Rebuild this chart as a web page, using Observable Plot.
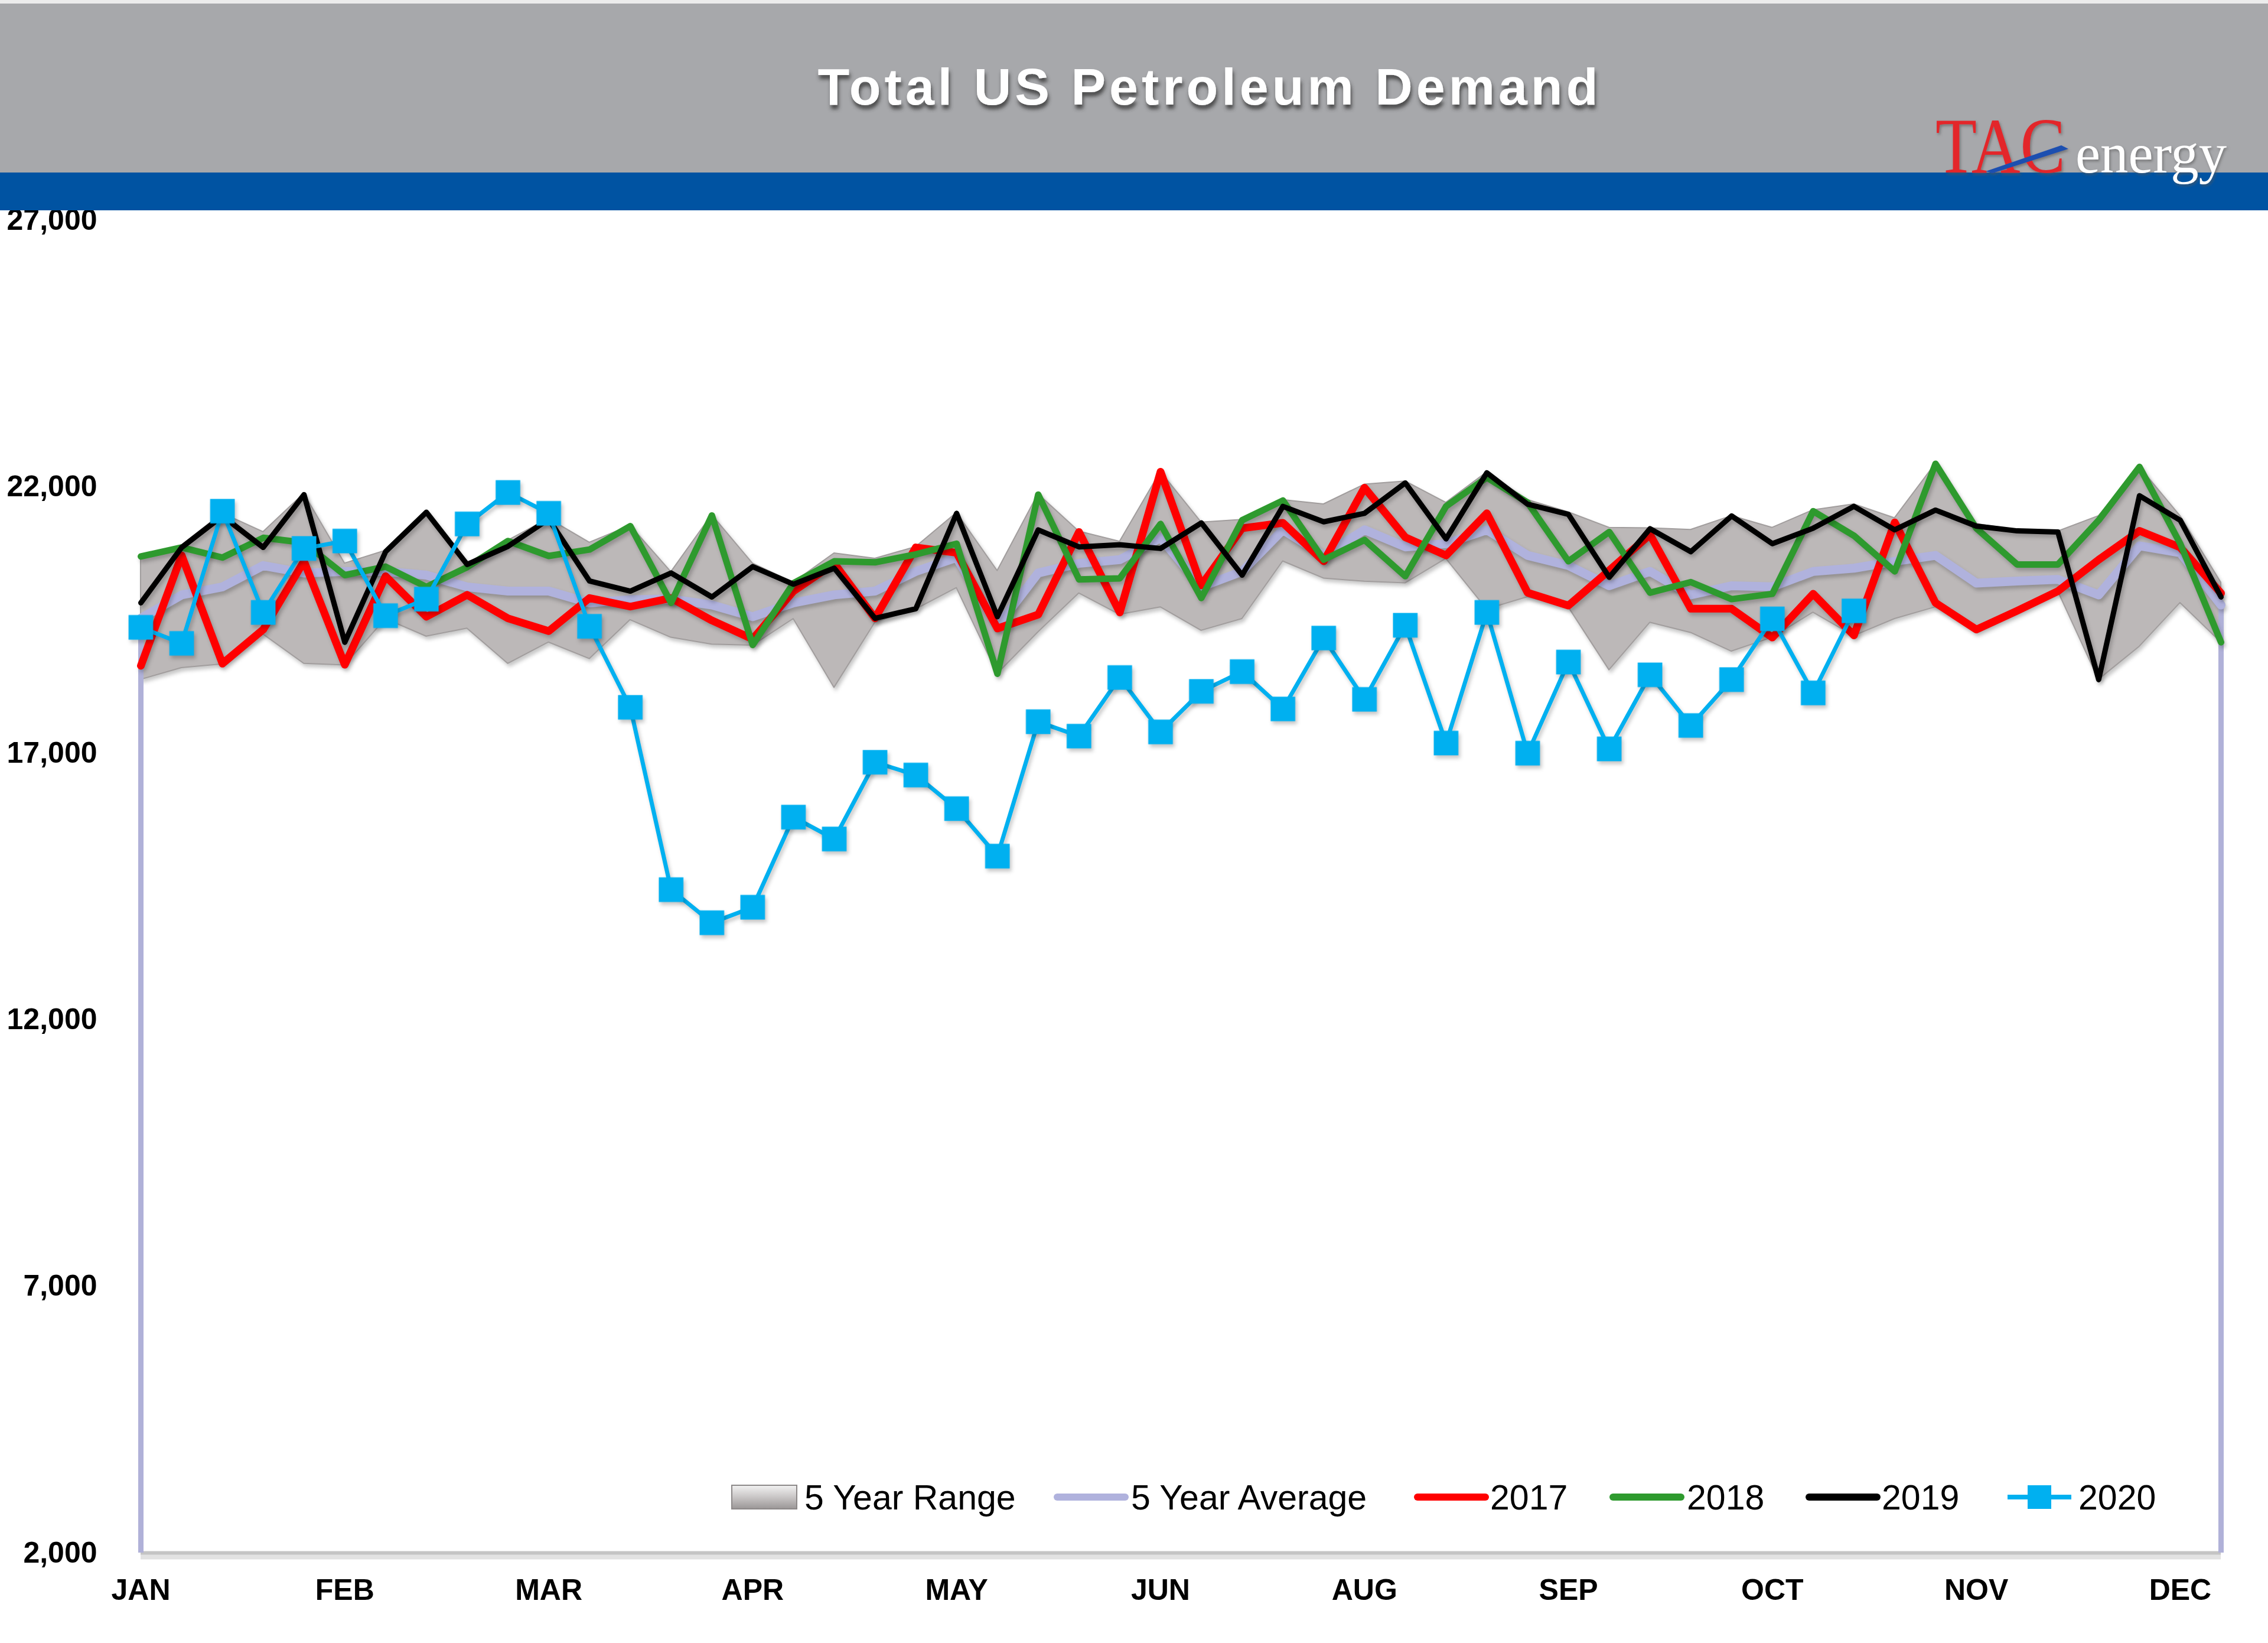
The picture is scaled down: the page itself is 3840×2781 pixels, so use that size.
<!DOCTYPE html>
<html>
<head>
<meta charset="utf-8">
<script src="https://cdn.jsdelivr.net/npm/d3@7"></script>
<script src="https://cdn.jsdelivr.net/npm/@observablehq/plot@0.6"></script>
<style>
  html, body { margin: 0; padding: 0; background: #ffffff; }
  #page { position: relative; width: 3840px; height: 2781px; overflow: hidden; background: #ffffff; }
  #chart { position: absolute; left: 0; top: 0; z-index: 1; }
  #header { position: absolute; left: 0; top: 0; z-index: 2; }
  #legend { position: absolute; left: 0; top: 2450px; z-index: 3; }
</style>
</head>
<body>
<div id="page">
  <div id="chart"></div>
  <svg id="header" width="3840" height="356" xmlns="http://www.w3.org/2000/svg">
    <defs>
      <filter id="tshadow" x="-5%" y="-20%" width="110%" height="160%">
        <feDropShadow dx="2" dy="7" stdDeviation="3" flood-color="#3a3a3a" flood-opacity="0.85"/>
      </filter>
      <filter id="lshadow" x="-5%" y="-20%" width="110%" height="160%">
        <feDropShadow dx="2" dy="3" stdDeviation="2" flood-color="#555" flood-opacity="0.6"/>
      </filter>
    </defs>
    <rect x="0" y="0" width="3840" height="6" fill="#ececec"/>
    <rect x="0" y="6" width="3840" height="286" fill="#a7a8ab"/>
    <rect x="0" y="292" width="3840" height="64" fill="#0053a2"/>
    <text x="2048" y="177" text-anchor="middle" font-family="Liberation Sans, Arial, sans-serif" font-weight="bold" font-size="88" letter-spacing="6" fill="#ffffff" filter="url(#tshadow)">Total US Petroleum Demand</text>
    <g filter="url(#lshadow)">
      <text x="3277" y="292" font-family="Liberation Serif, Times New Roman, serif" font-size="134" fill="#e3262b" textLength="220" lengthAdjust="spacingAndGlyphs">TAC</text>
      <polygon points="3362,290 3374,293 3502,252 3490,246" fill="#1f4fb0"/>
      <text x="3514" y="292" font-family="Liberation Serif, Times New Roman, serif" font-size="96" fill="#ffffff" textLength="256" lengthAdjust="spacingAndGlyphs">energy</text>
    </g>
  </svg>
  <svg id="legend" width="3840" height="150" xmlns="http://www.w3.org/2000/svg">
    <defs>
      <linearGradient id="rangeGrad" x1="0" y1="0" x2="0" y2="1">
        <stop offset="0" stop-color="#f2f2f2"/>
        <stop offset="0.5" stop-color="#c9c6c6"/>
        <stop offset="1" stop-color="#9a9696"/>
      </linearGradient>
    </defs>
  </svg>
</div>
<script>
// ---------------- data ----------------
const monthLabels = ["JAN","FEB","MAR","APR","MAY","JUN","AUG","SEP","OCT","NOV","DEC"];
const monthWeeks  = [1, 6, 11, 16, 21, 26, 31, 36, 41, 46, 51];
const yTicks = [2000, 7000, 12000, 17000, 22000, 27000];

const rangeHigh = [20700,20900,21500,21150,21870,20560,20800,21530,20560,20990,21400,20950,21270,20400,21470,20560,20200,20750,20650,20870,21510,20420,21860,21160,20970,22280,21330,21380,21750,21670,22040,22100,21700,22270,21750,21520,21230,21220,21190,21450,21230,21560,21670,21410,22430,21300,21190,21160,21450,22370,21450,20200];
const rangeLow  = [18380,18600,18670,19230,18680,18650,19520,19190,19340,18680,19080,18770,19500,19170,19040,19020,19520,18230,19450,19700,20100,18490,19270,20000,19600,19740,19300,19520,20600,20280,20220,20190,20650,19700,19930,19740,18560,19450,19260,18910,19170,19640,19200,19520,19740,19320,19670,20040,18380,19000,19820,19080];
const avg5      = [19530,19970,20120,20520,20380,20410,20410,20340,20120,20040,20040,19820,19880,19890,19780,19560,19820,19970,20040,20410,20670,19380,20380,20560,20630,21040,20120,20410,21190,20710,21190,20870,20930,21190,20710,20520,20140,20410,19970,20140,20120,20410,20470,20600,20710,20190,20230,20260,19970,20890,20760,19780];
const y2017     = [18640,20710,18680,19320,20600,18660,20320,19560,19970,19530,19290,19910,19750,19910,19490,19140,20040,20560,19530,20860,20760,19340,19600,21150,19640,22280,20150,21220,21320,20600,21980,21050,20710,21500,20010,19770,20430,21100,19710,19710,19170,19990,19210,21330,19820,19320,19670,20040,20630,21170,20860,20000];
const y2018     = [20690,20860,20670,21040,20950,20340,20500,20120,20490,20980,20700,20820,21260,19820,21460,19030,20190,20600,20580,20730,20930,18490,21850,20260,20280,21300,19910,21370,21740,20630,21000,20320,21630,22170,21700,20600,21150,20010,20210,19890,19990,21540,21080,20410,22430,21220,20540,20540,21370,22370,20930,19080];
const y2019     = [19820,20860,21450,20860,21850,19080,20780,21520,20540,20880,21390,20230,20040,20380,19930,20500,20170,20470,19530,19710,21500,19560,21190,20870,20910,20840,21320,20340,21630,21340,21500,22070,21020,22260,21670,21480,20300,21210,20780,21450,20930,21220,21630,21190,21560,21260,21170,21150,18380,21830,21370,19930];
const y2020     = [19360,19060,21540,19640,20840,20980,19580,19890,21300,21890,21500,19380,17860,14440,13820,14110,15800,15390,16830,16590,15960,15070,17590,17320,18420,17400,18160,18530,17830,19160,18010,19400,17190,19640,17000,18710,17080,18470,17520,18380,19520,18130,19670];

// ---------------- tables built from the arrays ----------------
const weeks = d3.range(1, rangeHigh.length + 1);
const band = weeks.map((w, i) => ({w, lo: rangeLow[i], hi: rangeHigh[i]}));
const toRows = (arr) => arr.map((v, i) => ({w: i + 1, v}));
const avgRows = toRows(avg5);
const edgeRows = [avgRows[0], avgRows[avgRows.length - 1]];
const fmt = d3.format(",");

const chart = Plot.plot({
  width: 3840,
  height: 2781,
  marginTop: 372,
  marginBottom: 153,
  marginLeft: 238,
  marginRight: 80,
  style: {
    background: "transparent",
    fontFamily: "Liberation Sans, Arial, sans-serif",
    fontSize: "50px",
    fontWeight: "bold",
    color: "#000000"
  },
  x: {
    domain: [1, 52],
    ticks: monthWeeks,
    tickFormat: (d) => monthLabels[monthWeeks.indexOf(d)],
    tickSize: 0,
    tickPadding: 44,
    label: null
  },
  y: {
    domain: [2000, 27000],
    ticks: yTicks,
    tickFormat: (d) => fmt(d),
    tickSize: 0,
    tickPadding: 74,
    label: null
  },
  marks: [
    Plot.ruleY([2000], {stroke: "#e2e2e2", strokeWidth: 10, dy: 6}),
    Plot.ruleY([2000], {stroke: "#c4c4c4", strokeWidth: 6}),
    Plot.areaY(band, {x: "w", y1: "lo", y2: "hi", fill: "#bcb8b8", stroke: "#a19d9d", strokeWidth: 2}),
    Plot.ruleX(edgeRows, {x: "w", y1: 2000, y2: "v", stroke: "#b0b1d8", strokeWidth: 9}),
    Plot.lineY(avgRows, {x: "w", y: "v", stroke: "#b0b2dd", strokeWidth: 15, strokeLinejoin: "round"}),
    Plot.lineY(toRows(y2017), {x: "w", y: "v", stroke: "#ff0000", strokeWidth: 13, strokeLinejoin: "round"}),
    Plot.lineY(toRows(y2018), {x: "w", y: "v", stroke: "#2e9a2e", strokeWidth: 11, strokeLinejoin: "round"}),
    Plot.lineY(toRows(y2019), {x: "w", y: "v", stroke: "#000000", strokeWidth: 9, strokeLinejoin: "round"}),
    Plot.lineY(toRows(y2020), {x: "w", y: "v", stroke: "#00b0f0", strokeWidth: 7, strokeLinejoin: "round"}),
    Plot.dot(toRows(y2020), {x: "w", y: "v", symbol: "square", r: 23.5, fill: "#00b0f0", stroke: "none"})
  ]
});
document.getElementById("chart").appendChild(chart);
// soft drop shadows like the original's lines
d3.select(chart).selectAll('g[aria-label="line"], g[aria-label="area"], g[aria-label="dot"]')
  .style("filter", "drop-shadow(3px 5px 3px rgba(0,0,0,0.22))");

// ---------------- legend ----------------
const legendItems = [
  {label: "5 Year Range",   kind: "range",  sx: 1239, tx: 1362},
  {label: "5 Year Average", kind: "line",   sx: 1790, tx: 1915, color: "#b0b2dd"},
  {label: "2017",           kind: "line",   sx: 2400, tx: 2523, color: "#ff0000"},
  {label: "2018",           kind: "line",   sx: 2731, tx: 2856, color: "#2e9a2e"},
  {label: "2019",           kind: "line",   sx: 3063, tx: 3186, color: "#000000"},
  {label: "2020",           kind: "marker", sx: 3399, tx: 3519, color: "#00b0f0"}
];
const lg = d3.select("#legend");
const cy = 84; // swatch centre inside legend svg (page y ≈ 2534)
legendItems.forEach((it) => {
  if (it.kind === "range") {
    lg.append("rect").attr("x", it.sx).attr("y", cy - 20).attr("width", 110).attr("height", 40)
      .attr("fill", "url(#rangeGrad)").attr("stroke", "#8c8888").attr("stroke-width", 2);
  } else if (it.kind === "line") {
    lg.append("line").attr("x1", it.sx).attr("x2", it.sx + 115).attr("y1", cy).attr("y2", cy)
      .attr("stroke", it.color).attr("stroke-width", 12).attr("stroke-linecap", "round");
  } else {
    lg.append("line").attr("x1", it.sx).attr("x2", it.sx + 108).attr("y1", cy).attr("y2", cy)
      .attr("stroke", it.color).attr("stroke-width", 8);
    lg.append("rect").attr("x", it.sx + 54 - 20).attr("y", cy - 20).attr("width", 40).attr("height", 40)
      .attr("fill", it.color);
  }
  lg.append("text").attr("x", it.tx).attr("y", 105)
    .attr("font-family", "Liberation Sans, Arial, sans-serif").attr("font-size", 59)
    .attr("fill", "#000000").text(it.label);
});
</script>
</body>
</html>
